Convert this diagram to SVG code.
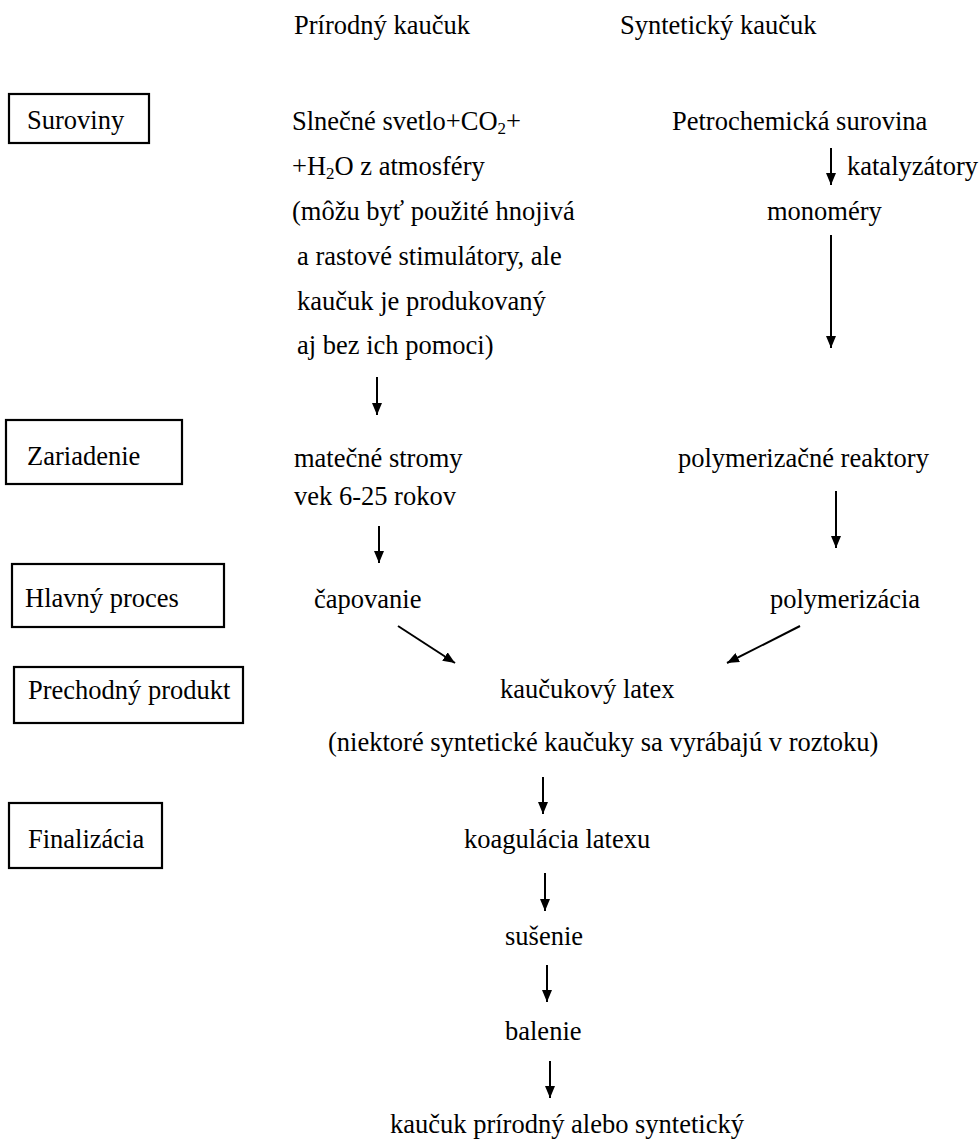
<svg xmlns="http://www.w3.org/2000/svg" width="980" height="1144" viewBox="0 0 980 1144">
<style>
text{font-family:"Liberation Serif","Times New Roman",serif;font-size:26.5px;fill:#000}
.box{fill:#fff;stroke:#000;stroke-width:2.2}
.arr{stroke:#000;stroke-width:2;fill:none;marker-end:url(#ah)}
</style>
<defs>
<marker id="ah" markerUnits="userSpaceOnUse" markerWidth="12" markerHeight="10" refX="12" refY="5" orient="auto">
<path d="M0,0 L12,5 L0,10 z" fill="#000"/>
</marker>
</defs>
<rect width="980" height="1144" fill="#fff"/>
<g id="headers">
<text x="294" y="34">Prírodný kaučuk</text>
<text x="620" y="34">Syntetický kaučuk</text>
</g>
<g id="suroviny"><rect class="box" x="9" y="94" width="140" height="49"/><text x="27" y="129">Suroviny</text></g>
<g id="zariadenie"><rect class="box" x="6" y="420" width="176" height="64"/><text x="27" y="465">Zariadenie</text></g>
<g id="hlavny"><rect class="box" x="12" y="564" width="212" height="63"/><text x="25" y="607">Hlavný proces</text></g>
<g id="prechodny"><rect class="box" x="14" y="667" width="229" height="56"/><text x="28" y="699">Prechodný produkt</text></g>
<g id="finalizacia"><rect class="box" x="9" y="803" width="153" height="65"/><text x="28" y="848">Finalizácia</text></g>
<g id="prirodny-suroviny">
<text x="292" y="130">Slnečné svetlo+CO<tspan font-size="17" dy="4">2</tspan><tspan dy="-4">+</tspan></text>
<text x="292" y="175">+H<tspan font-size="17" dy="4">2</tspan><tspan dy="-4">O z atmosféry</tspan></text>
<text x="292" y="220">(môžu byť použité hnojivá</text>
<text x="297" y="265">a rastové stimulátory, ale</text>
<text x="297" y="310">kaučuk je produkovaný</text>
<text x="297" y="354">aj bez ich pomoci)</text>
</g>
<g id="petrochemicka"><text x="672" y="130">Petrochemická surovina</text></g>
<g id="katalyzatory"><text x="847" y="175">katalyzátory</text></g>
<g id="monomery"><text x="767" y="220">monoméry</text></g>
<g id="matecne"><text x="294" y="467">matečné stromy</text><text x="294" y="505">vek 6-25 rokov</text></g>
<g id="reaktory"><text x="678" y="467">polymerizačné reaktory</text></g>
<g id="capovanie"><text x="314" y="608">čapovanie</text></g>
<g id="polymerizacia"><text x="770" y="608">polymerizácia</text></g>
<g id="latex"><text x="500" y="698">kaučukový latex</text><text x="328" y="751">(niektoré syntetické kaučuky sa vyrábajú v roztoku)</text></g>
<g id="koagulacia"><text x="464" y="848">koagulácia latexu</text></g>
<g id="susenie"><text x="505" y="945">sušenie</text></g>
<g id="balenie"><text x="505" y="1040">balenie</text></g>
<g id="vysledok"><text x="390" y="1133">kaučuk prírodný alebo syntetický</text></g>
<g id="connectors">
<line class="arr" x1="831" y1="148" x2="831" y2="185"/>
<line class="arr" x1="831" y1="235" x2="831" y2="348"/>
<line class="arr" x1="377" y1="377" x2="377" y2="415"/>
<line class="arr" x1="379" y1="526" x2="379" y2="563"/>
<line class="arr" x1="836" y1="491" x2="836" y2="548"/>
<line class="arr" x1="398" y1="626" x2="455" y2="663"/>
<line class="arr" x1="800" y1="626" x2="727" y2="663"/>
<line class="arr" x1="543" y1="777" x2="543" y2="814"/>
<line class="arr" x1="545" y1="873" x2="545" y2="911"/>
<line class="arr" x1="547" y1="965" x2="547" y2="1002"/>
<line class="arr" x1="550" y1="1061" x2="550" y2="1098"/>
</g>
</svg>
